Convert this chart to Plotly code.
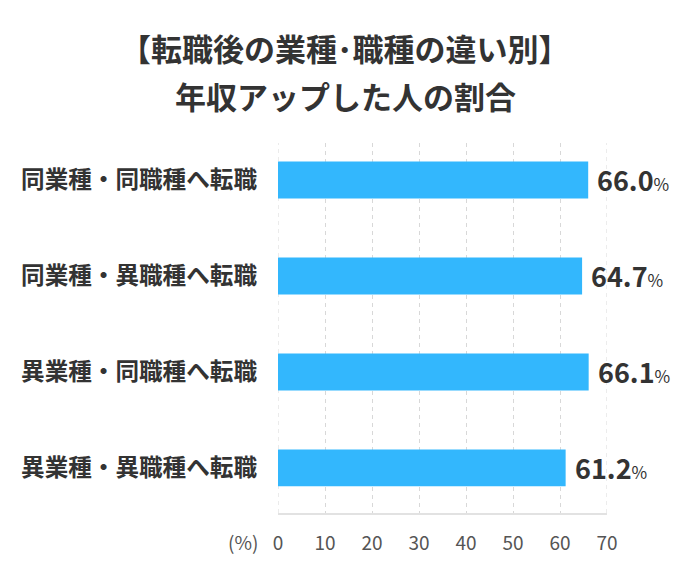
import plotly.graph_objects as go

categories = ["同業種・同職種へ転職", "同業種・異職種へ転職", "異業種・同職種へ転職", "異業種・異職種へ転職"]
values = [66.0, 64.7, 66.1, 61.2]
x_ticks = [0, 10, 20, 30, 40, 50, 60, 70]
title_lines = ["【転職後の業種･職種の違い別】", "年収アップした人の割合"]

FONT = "Noto Sans CJK JP"
W, H = 690, 580
OFF = 8  # page body margin offset
L, R, T, B = 278 - OFF, 690 - 607 + OFF, 143 - OFF, 580 - 513 + OFF
PW, PH = W - L - R, H - T - B
GRID = "#d8d8d8"

def px_to_paper(xpx, ypx):
    xf = xpx - OFF
    yf = ypx - OFF
    return (xf - L) / PW, 1 - (yf - T) / PH

ypos = list(range(len(categories)))

fig = go.Figure()
fig.add_trace(go.Bar(
    x=values, y=ypos, orientation="h",
    marker=dict(color="#33b7fd", line=dict(width=0)),
    width=0.385, hoverinfo="skip",
))

# edge gridlines (plotly skips gridlines on the plot-area border)
for t in (x_ticks[0], x_ticks[-1]):
    fig.add_shape(type="line", xref="x", yref="paper", x0=t, x1=t, y0=0, y1=1,
                  line=dict(color=GRID, width=1, dash="4px,4px"), layer="below")

for yv, v in zip(ypos, values):
    fig.add_annotation(
        x=v, y=yv, xref="x", yref="y",
        text=f"<b>{v:.1f}</b><span style='font-size:17px'>%</span>",
        showarrow=False, xanchor="left", yanchor="middle", xshift=7,
        font=dict(family=FONT, size=27, color="#333333"),
    )

for line, ypx in zip(title_lines, [47, 96]):
    xp, yp = px_to_paper(345, ypx)
    fig.add_annotation(
        x=xp, y=yp, xref="paper", yref="paper", text=f"<b>{line}</b>",
        showarrow=False, xanchor="center", yanchor="middle",
        font=dict(family=FONT, size=31, color="#333333"),
    )

xp, yp = px_to_paper(243, 541)
fig.add_annotation(
    x=xp, y=yp, xref="paper", yref="paper", text="(%)", showarrow=False,
    xanchor="center", yanchor="middle",
    font=dict(family=FONT, size=19, color="#555555"),
)

fig.update_layout(
    width=W, height=H,
    margin=dict(l=L, r=R, t=T, b=B, pad=0, autoexpand=False),
    paper_bgcolor="white", plot_bgcolor="white",
    showlegend=False,
    font=dict(family=FONT, color="#333333"),
    xaxis=dict(
        range=[0, 70], tickvals=x_ticks, ticktext=[str(t) for t in x_ticks],
        showgrid=True, gridcolor=GRID, griddash="4px,4px", gridwidth=1,
        zeroline=False, showline=True, linecolor="#e2e2e2", linewidth=2,
        ticks="", ticklabelstandoff=12, automargin=False,
        tickfont=dict(family=FONT, size=19, color="#555555"), fixedrange=True,
    ),
    yaxis=dict(
        range=[3.47, -0.385], tickvals=ypos, ticktext=["<b>" + s + "</b>" for s in categories],
        showgrid=False, zeroline=False, showline=False, ticks="",
        ticklabelstandoff=20, automargin=False,
        tickfont=dict(family=FONT, size=23.6, color="#333333"), fixedrange=True,
    ),
)

fig.write_html("out.html")
